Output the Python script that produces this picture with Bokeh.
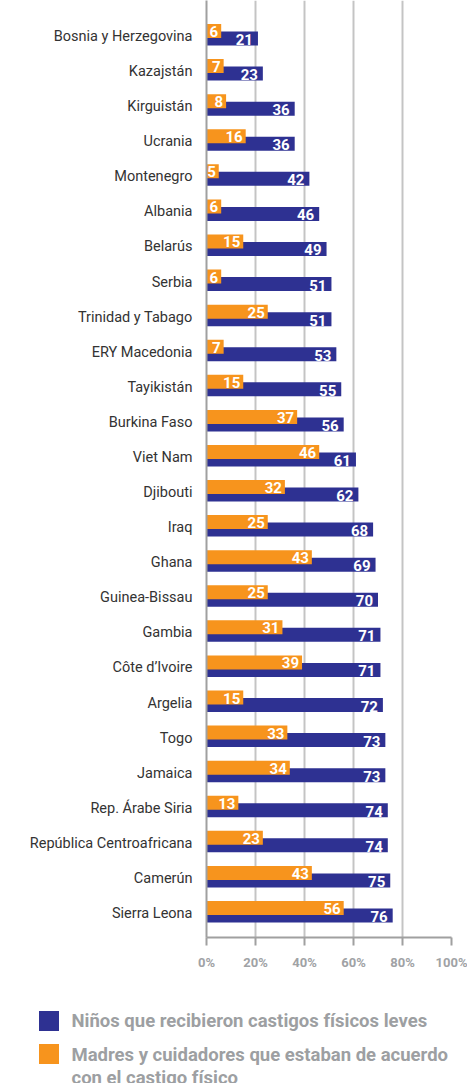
from bokeh.plotting import figure
from bokeh.models import Range1d, FixedTicker, ColumnDataSource, Div
from bokeh.layouts import column
from bokeh.core.properties import value
from bokeh.embed import file_html
from bokeh.resources import INLINE

countries = ["Bosnia y Herzegovina", "Kazajstán", "Kirguistán", "Ucrania", "Montenegro",
             "Albania", "Belarús", "Serbia", "Trinidad y Tabago", "ERY Macedonia",
             "Tayikistán", "Burkina Faso", "Viet Nam", "Djibouti", "Iraq", "Ghana",
             "Guinea-Bissau", "Gambia", "Côte d’Ivoire", "Argelia", "Togo", "Jamaica",
             "Rep. Árabe Siria", "República Centroafricana", "Camerún", "Sierra Leona"]
ninos = [21, 23, 36, 36, 42, 46, 49, 51, 51, 53, 55, 56, 61, 62, 68, 69, 70, 71, 71, 72,
         73, 73, 74, 74, 75, 76]
madres = [6, 7, 8, 16, 5, 6, 15, 6, 25, 7, 15, 37, 46, 32, 25, 43, 25, 31, 39, 15, 33, 34,
          13, 23, 43, 56]
x_ticks = [0, 20, 40, 60, 80, 100]
x_tick_labels = ["0%", "20%", "40%", "60%", "80%", "100%"]
legend_labels = ["Niños que recibieron castigos físicos leves",
                 "Madres y cuidadores que estaban de acuerdo",
                 "con el castigo físico"]

BLUE = "#2e3192"
ORANGE = "#f7941d"
GRID = "#c4c4c4"
AXIS = "#a0a0a0"
TICKTXT = "#a0a2a5"
LEGTXT = "#9d9fa2"
LABTXT = "#333333"
FONT = "Roboto"

W = 467
FL, FW, FT, FH = 206, 245, 0, 937   # frame left, width, top, height (canvas px)
PH = 990                            # chart height; legend below
LH = 93                             # legend height
PX = 35.08                          # pixels per row
ROW0 = 36.0                         # canvas y of first row centre

n = len(countries)
idx = list(range(n))
y_blue = [i + 2.0 / PX for i in idx]
y_orange = [i - 5.5 / PX for i in idx]
bar_h = 14.0 / PX

src = ColumnDataSource(dict(
    y_blue=y_blue, y_orange=y_orange, ninos=ninos, madres=madres,
    ninos_txt=[str(v) for v in ninos], madres_txt=[str(v) for v in madres],
    y_blue_txt=[y + 1.0 / PX for y in y_blue],
    y_orange_txt=[y + 0.5 / PX for y in y_orange],
))

top = -(ROW0 - FT) / PX
bottom = (FT + FH - ROW0) / PX

p = figure(frame_width=FW, frame_height=FH, min_border_left=FL,
           min_border_right=W - FL - FW, min_border_top=FT,
           min_border_bottom=PH - FT - FH,
           x_range=Range1d(0, 100), y_range=Range1d(bottom, top),
           output_backend="svg", toolbar_location=None)
p.outline_line_color = None
p.ygrid.grid_line_color = None
p.xgrid.grid_line_color = GRID
p.xgrid.grid_line_width = 2

p.hbar(y="y_blue", left=0, right="ninos", height=bar_h, source=src,
       fill_color=BLUE, line_color=None)
p.hbar(y="y_orange", left=0, right="madres", height=bar_h, source=src,
       fill_color=ORANGE, line_color=None)

p.text(x="ninos", y="y_blue_txt", text="ninos_txt", source=src, x_offset=-5,
       text_align="right", text_baseline="middle", text_color="white",
       text_font=value(FONT), text_font_style="bold", text_font_size="15px")
p.text(x="madres", y="y_orange_txt", text="madres_txt", source=src, x_offset=-3,
       text_align="right", text_baseline="middle", text_color="white",
       text_font=value(FONT), text_font_style="bold", text_font_size="15px")

ya = p.yaxis[0]
ya.ticker = FixedTicker(ticks=idx)
ya.major_label_overrides = {i: c for i, c in zip(idx, countries)}
ya.major_tick_line_color = None
ya.minor_tick_line_color = None
ya.axis_line_color = AXIS
ya.axis_line_width = 2
ya.major_label_standoff = 8
ya.major_label_text_font = FONT
ya.major_label_text_font_size = "14.5px"
ya.major_label_text_color = LABTXT

xa = p.xaxis[0]
xa.ticker = FixedTicker(ticks=x_ticks)
xa.major_label_overrides = {t: l for t, l in zip(x_ticks, x_tick_labels)}
xa.major_tick_in = 0
xa.major_tick_out = 8
xa.major_tick_line_color = AXIS
xa.major_tick_line_width = 2
xa.minor_tick_line_color = None
xa.axis_line_color = AXIS
xa.axis_line_width = 2
xa.major_label_standoff = 9
xa.major_label_text_font = FONT
xa.major_label_text_font_style = "bold"
xa.major_label_text_font_size = "13px"
xa.major_label_text_color = TICKTXT

# legend block below the chart (positions relative to its top, which is canvas y=990)
def box(left, top_, color):
    return (f'<div style="position:absolute;left:{left}px;top:{top_}px;width:20px;'
            f'height:20px;background:{color};"></div>')

def line(left, top_, txt):
    return (f'<div style="position:absolute;left:{left}px;top:{top_}px;'
            f'white-space:nowrap;line-height:23px;">{txt}</div>')

html = (f'<div style="position:relative;width:{W}px;height:{LH}px;overflow:hidden;'
        f'font-family:{FONT},sans-serif;font-weight:bold;font-size:18.5px;color:{LEGTXT};">'
        + box(39, 21, BLUE) + box(39, 54, ORANGE)
        + line(71.5, 20.2, legend_labels[0])
        + line(71.5, 53.9, legend_labels[1])
        + line(71.5, 76.9, legend_labels[2])
        + '</div>')

leg = Div(text=html, width=W, height=LH, margin=0, styles={"overflow": "hidden"})

layout = column(p, leg, spacing=0)
open("out.html", "w").write(file_html(layout, INLINE))
